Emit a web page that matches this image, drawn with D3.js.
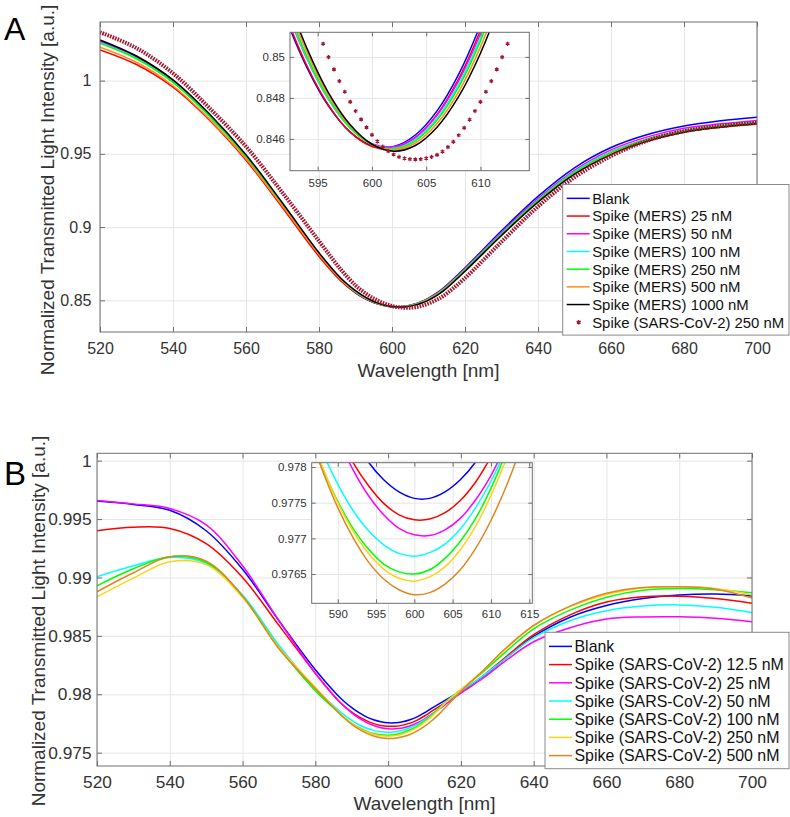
<!DOCTYPE html>
<html><head><meta charset="utf-8">
<script src="https://cdn.jsdelivr.net/npm/d3@7"></script>
<style>body{margin:0;background:#fff}svg{display:block}text{font-family:"Liberation Sans",Arial,Helvetica,sans-serif}</style>
</head><body><svg id="c" width="790" height="817"></svg>
<script>
// ---------------- DATA: panel A ----------------
const waveA = [520,530,540,550,560,570,580,586,590,592,594,596,598,600,602,604,606,608,610,612,614,620,630,640,650,660,670,680,690,700];
const blankA   = [1.0270,1.0160,0.9995,0.9760,0.9482,0.9150,0.8810,0.8638,0.85509,0.85198,0.84949,0.84760,0.84633,0.84567,0.84563,0.84619,0.84737,0.84916,0.85157,0.85459,0.85822,0.8722,0.8975,0.9210,0.9405,0.9543,0.9632,0.9690,0.9726,0.9750];
const mers25A  = [1.0210,1.0110,0.9955,0.9730,0.9457,0.9132,0.8800,0.8633,0.85528,0.85213,0.84958,0.84765,0.84633,0.84563,0.84554,0.84606,0.84719,0.84894,0.85130,0.85427,0.85786,0.8715,0.8960,0.9190,0.9378,0.9513,0.9602,0.9658,0.9690,0.9710];
const mers50A  = [1.0265,1.0157,0.9993,0.9760,0.9484,0.9155,0.8816,0.8643,0.85573,0.85251,0.84991,0.84792,0.84654,0.84577,0.84562,0.84608,0.84715,0.84884,0.85113,0.85405,0.85757,0.8715,0.8963,0.9195,0.9388,0.9527,0.9616,0.9675,0.9705,0.9728];
const mers100A = [1.0258,1.0152,0.9990,0.9758,0.9483,0.9155,0.8817,0.8644,0.85584,0.85259,0.84995,0.84793,0.84652,0.84573,0.84554,0.84597,0.84701,0.84867,0.85094,0.85382,0.85731,0.8709,0.8955,0.9185,0.9378,0.9513,0.9602,0.9660,0.9692,0.9715];
const mers250A = [1.0255,1.0149,0.9988,0.9757,0.9483,0.9156,0.8819,0.8646,0.85599,0.85271,0.85004,0.84799,0.84655,0.84572,0.84551,0.84591,0.84692,0.84854,0.85078,0.85363,0.85709,0.8707,0.8953,0.9182,0.9373,0.9508,0.9598,0.9657,0.9690,0.9712];
const mers500A = [1.0228,1.0125,0.9965,0.9737,0.9466,0.9144,0.8813,0.8645,0.85631,0.85297,0.85024,0.84813,0.84663,0.84574,0.84546,0.84580,0.84675,0.84831,0.85049,0.85327,0.85667,0.8699,0.8943,0.9172,0.9363,0.9498,0.9588,0.9648,0.9680,0.9702];
const mers1000A= [1.0278,1.0168,1.0005,0.9772,0.9494,0.9165,0.8825,0.8651,0.85661,0.85321,0.85043,0.84825,0.84669,0.84574,0.84540,0.84568,0.84657,0.84807,0.85018,0.85291,0.85625,0.8699,0.8943,0.9170,0.9361,0.9495,0.9587,0.9648,0.9682,0.9705];
const sarsA    = [1.0330,1.0222,1.0050,0.9812,0.9550,0.9235,0.8905,0.8710,0.86018,0.85614,0.85272,0.84993,0.84776,0.84612,0.84522,0.84500,0.84520,0.84620,0.84786,0.85006,0.85288,0.8652,0.8900,0.9140,0.9340,0.9485,0.9590,0.9655,0.9690,0.9712];
// SARS-CoV-2 250 nM markers seen in the inset
const sarsInsetWave = [595.5,596,596.5,597,597.5,598,598.5,599,599.5,600,600.5,601,601.5,602,602.5,603,603.5,604,604.5,605,605.5,606,606.5,607,607.5,608,608.5,609,609.5,610,610.5,611,611.5,612,612.5];
const sarsInsetVals = [0.85064,0.84999,0.84939,0.84882,0.84830,0.84781,0.84736,0.84695,0.84656,0.84620,0.84588,0.84562,0.84540,0.84524,0.84512,0.84505,0.84501,0.84500,0.84501,0.84505,0.84512,0.84522,0.84538,0.84560,0.84586,0.84618,0.84654,0.84694,0.84736,0.84781,0.84830,0.84882,0.84939,0.84999,0.85064];
const namesA = ["Blank","Spike (MERS) 25 nM","Spike (MERS) 50 nM","Spike (MERS) 100 nM","Spike (MERS) 250 nM","Spike (MERS) 500 nM","Spike (MERS) 1000 nM","Spike (SARS-CoV-2) 250 nM"];
const colorsA = ["#0000ff","#ff0000","#ff00ff","#00ffff","#00ff00","#ff8c1a","#000000","#a2142f"];
const xTicksA = [520,540,560,580,600,620,640,660,680,700];
const yTicksA = [0.85,0.9,0.95,1];
const xTicksInsetA = [595,600,605,610];
const yTicksInsetA = [0.846,0.848,0.85];

// ---------------- DATA: panel B ----------------
const waveB = [520,530,540,550,560,570,580,586,588,590,592,594,596,598,600,602,604,606,608,610,612,614,616,620,626,632,640,650,660,670,680,690,700];
const blankB   = [0.99654,0.99625,0.99575,0.99400,0.99070,0.98630,0.98210,0.97996,0.97936,0.97885,0.97842,0.97807,0.97782,0.97765,0.97756,0.97756,0.97765,0.97782,0.97807,0.97842,0.97882,0.97918,0.97955,0.98025,0.98150,0.98300,0.98495,0.98660,0.98760,0.98820,0.98850,0.98858,0.98842];
const sars12B  = [0.99400,0.99430,0.99420,0.99290,0.99000,0.98590,0.98180,0.97955,0.97897,0.97848,0.97806,0.97774,0.97749,0.97733,0.97726,0.97727,0.97736,0.97753,0.97779,0.97814,0.97855,0.97895,0.97935,0.98020,0.98155,0.98310,0.98510,0.98680,0.98790,0.98835,0.98840,0.98820,0.98780];
const sars25B  = [0.99660,0.99630,0.99590,0.99450,0.99100,0.98630,0.98180,0.97957,0.97895,0.97841,0.97796,0.97760,0.97733,0.97714,0.97705,0.97704,0.97712,0.97728,0.97754,0.97788,0.97831,0.97870,0.97920,0.98010,0.98135,0.98280,0.98450,0.98570,0.98645,0.98662,0.98663,0.98650,0.98620];
const sars50B  = [0.99006,0.99100,0.99172,0.99120,0.98850,0.98420,0.98050,0.97874,0.97821,0.97776,0.97739,0.97711,0.97691,0.97679,0.97675,0.97680,0.97692,0.97713,0.97743,0.97780,0.97826,0.97880,0.97935,0.98025,0.98155,0.98300,0.98485,0.98630,0.98715,0.98755,0.98765,0.98745,0.98700];
const sars100B = [0.98929,0.99075,0.99178,0.99130,0.98840,0.98400,0.98030,0.97855,0.97799,0.97752,0.97714,0.97685,0.97664,0.97653,0.97650,0.97656,0.97672,0.97696,0.97728,0.97770,0.97821,0.97880,0.97940,0.98040,0.98190,0.98355,0.98560,0.98720,0.98830,0.98890,0.98905,0.98895,0.98870];
const sars250B = [0.98835,0.98995,0.99135,0.99110,0.98830,0.98400,0.98060,0.97859,0.97800,0.97750,0.97710,0.97679,0.97657,0.97644,0.97640,0.97646,0.97660,0.97684,0.97717,0.97760,0.97811,0.97872,0.97935,0.98040,0.98200,0.98380,0.98585,0.98750,0.98855,0.98910,0.98920,0.98905,0.98850];
const sars500B = [0.98878,0.99040,0.99178,0.99140,0.98840,0.98390,0.98050,0.97855,0.97795,0.97743,0.97701,0.97667,0.97643,0.97628,0.97621,0.97624,0.97636,0.97656,0.97686,0.97725,0.97773,0.97830,0.97896,0.98025,0.98200,0.98385,0.98590,0.98755,0.98865,0.98915,0.98920,0.98900,0.98825];
const namesB = ["Blank","Spike (SARS-CoV-2) 12.5 nM","Spike (SARS-CoV-2) 25 nM","Spike (SARS-CoV-2) 50 nM","Spike (SARS-CoV-2) 100 nM","Spike (SARS-CoV-2) 250 nM","Spike (SARS-CoV-2) 500 nM"];
const colorsB = ["#0000ff","#ff0000","#ff00ff","#00ffff","#00ff00","#ffd21a","#e0861f"];
const xTicksB = [520,540,560,580,600,620,640,660,680,700];
const yTicksB = [0.975,0.98,0.985,0.99,0.995,1];
const xTicksInsetB = [590,595,600,605,610,615];
const yTicksInsetB = [0.9765,0.977,0.9775,0.978];

// ---------------- DRAWING ----------------
const svg = d3.select("#c");
const AX = "#6e6e6e", TXT = "#333", GRID = "#e6e6e6";
let clipId = 0;

function frame(g, x, y, o) {
  const [x0, x1] = x.range(), [y0, y1] = y.range();
  g.append("rect").attr("x", x0).attr("y", y1).attr("width", x1 - x0).attr("height", y0 - y1).attr("fill", "#fff");
  const gx = g.append("g").attr("transform", `translate(0,${y0})`)
    .call(d3.axisBottom(x).tickValues(o.xt).tickSize(-(y0 - y1)).tickFormat(""));
  const gy = g.append("g").attr("transform", `translate(${x0},0)`)
    .call(d3.axisLeft(y).tickValues(o.yt).tickSize(-(x1 - x0)).tickFormat(""));
  [gx, gy].forEach(a => { a.select(".domain").remove(); a.selectAll("line").attr("stroke", GRID).attr("stroke-width", 1); });
  const id = "clip" + (clipId++);
  g.append("clipPath").attr("id", id).append("rect").attr("x", x0).attr("y", y1).attr("width", x1 - x0).attr("height", y0 - y1);
  return g.append("g").attr("clip-path", `url(#${id})`);
}

function axes(g, x, y, o) {
  const [x0, x1] = x.range(), [y0, y1] = y.range();
  const style = a => {
    a.select(".domain").remove();
    a.selectAll("line").attr("stroke", AX);
    a.selectAll("text").attr("fill", TXT).attr("font-size", o.fs).attr("font-family", "Liberation Sans, Arial, sans-serif");
  };
  g.append("g").attr("transform", `translate(0,${y0})`)
    .call(d3.axisBottom(x).tickValues(o.xt).tickSize(-o.tl).tickPadding(o.px).tickFormat(d => String(d))).call(style);
  g.append("g").attr("transform", `translate(0,${y1})`)
    .call(d3.axisTop(x).tickValues(o.xt).tickSize(-o.tl).tickFormat("")).call(style);
  g.append("g").attr("transform", `translate(${x0},0)`)
    .call(d3.axisLeft(y).tickValues(o.yt).tickSize(-o.tl).tickPadding(o.py).tickFormat(d => String(d))).call(style);
  g.append("g").attr("transform", `translate(${x1},0)`)
    .call(d3.axisRight(y).tickValues(o.yt).tickSize(-o.tl).tickFormat("")).call(style);
  g.append("rect").attr("x", x0).attr("y", y1).attr("width", x1 - x0).attr("height", y0 - y1)
    .attr("fill", "none").attr("stroke", AX).attr("stroke-width", 1);
}

function drawLines(plot, x, y, wave, series, colors, opts) {
  const line = d3.line().x((d, i) => x(wave[i])).y(d => y(d)).curve(d3.curveCatmullRom.alpha(0.5));
  series.forEach((vals, k) => {
    const p = plot.append("path").attr("d", line(vals)).attr("fill", "none").attr("stroke", colors[k])
      .attr("stroke-width", 1.5).attr("stroke-linejoin", "round");
    if (opts && opts.dotted === k) p.attr("stroke-width", 4).attr("stroke-dasharray", "1.6 1.1");
  });
}

function legend(g, x0, x1, yTop, rowH, names, colors, markerIdx, fs) {
  const n = names.length;
  g.append("rect").attr("x", x0).attr("y", yTop).attr("width", x1 - x0).attr("height", rowH * n + 9)
    .attr("fill", "#fff").attr("stroke", "#8a8a8a").attr("stroke-width", 1);
  names.forEach((nm, i) => {
    const cy = yTop + 5 + rowH * (i + 0.5);
    if (i === markerIdx) {
      g.append("path").attr("d", d3.symbol(d3.symbolAsterisk, 14)()).attr("transform", `translate(${x0 + 16},${cy})`)
        .attr("stroke", colors[i]).attr("stroke-width", 1.3).attr("fill", "none");
    } else {
      g.append("line").attr("x1", x0 + 4).attr("x2", x0 + 27).attr("y1", cy).attr("y2", cy)
        .attr("stroke", colors[i]).attr("stroke-width", 1.5);
    }
    g.append("text").attr("x", x0 + 29.5).attr("y", cy).attr("dy", "0.36em").attr("font-size", fs)
      .attr("fill", "#111").text(nm);
  });
}

// ---------- Panel A ----------
{
  const g = svg.append("g");
  const x = d3.scaleLinear().domain([520, 700]).range([100, 757]);
  const y = d3.scaleLinear().domain([0.8284, 1.0400]).range([332, 22]);
  const plot = frame(g, x, y, { xt: xTicksA, yt: yTicksA });
  const seriesA = [blankA, mers25A, mers50A, mers100A, mers250A, mers500A, mers1000A, sarsA];
  drawLines(plot, x, y, waveA, seriesA, colorsA, { dotted: 7 });
  axes(g, x, y, { xt: xTicksA, yt: yTicksA, tl: 5, px: 10.5, py: 8.5, fs: 16 });
  const xi = d3.scaleLinear().domain([592.45, 614.5]).range([290, 529.3]);
  const yi = d3.scaleLinear().domain([0.84445, 0.8512]).range([170.7, 32.3]);
  const ip = frame(g, xi, yi, { xt: xTicksInsetA, yt: yTicksInsetA });
  drawLines(ip, xi, yi, waveA, seriesA.slice(0, 7), colorsA);
  ip.selectAll("path.mk").data(sarsInsetVals).join("path").attr("class", "mk")
    .attr("d", d3.symbol(d3.symbolAsterisk, 12)())
    .attr("transform", (d, i) => `translate(${xi(sarsInsetWave[i])},${yi(d)})`)
    .attr("fill", "none").attr("stroke", colorsA[7]).attr("stroke-width", 1.2);
  axes(g, xi, yi, { xt: xTicksInsetA, yt: yTicksInsetA, tl: 4, px: 8, py: 5, fs: 11.5 });
  legend(g, 562.7, 789, 184.5, 17.7, namesA, colorsA, 7, 14.9);
  g.append("text").attr("x", 428.5).attr("y", 377).attr("text-anchor", "middle").attr("font-size", 19).attr("fill", TXT).text("Wavelength [nm]");
  g.append("text").attr("transform", "translate(54,190) rotate(-90)").attr("text-anchor", "middle").attr("font-size", 19).attr("fill", TXT).text("Normalized Transmitted Light Intensity [a.u.]");
  g.append("text").attr("x", 4).attr("y", 40).attr("font-size", 32).attr("fill", "#000").text("A");
}

// ---------- Panel B ----------
{
  const g = svg.append("g");
  const x = d3.scaleLinear().domain([520, 700]).range([97, 752]);
  const y = d3.scaleLinear().domain([0.97386, 1.00063]).range([766, 453.3]);
  const plot = frame(g, x, y, { xt: xTicksB, yt: yTicksB });
  const seriesB = [blankB, sars12B, sars25B, sars50B, sars100B, sars250B, sars500B];
  drawLines(plot, x, y, waveB, seriesB, colorsB);
  axes(g, x, y, { xt: xTicksB, yt: yTicksB, tl: 5, px: 9.5, py: 5.5, fs: 17.3 });
  const xi = d3.scaleLinear().domain([586.6, 615.4]).range([311.7, 532.3]);
  const yi = d3.scaleLinear().domain([0.97609, 0.97806]).range([603.3, 462.7]);
  const ip = frame(g, xi, yi, { xt: xTicksInsetB, yt: yTicksInsetB });
  drawLines(ip, xi, yi, waveB, seriesB, colorsB);
  axes(g, xi, yi, { xt: xTicksInsetB, yt: yTicksInsetB, tl: 4, px: 7, py: 5, fs: 11.5 });
  legend(g, 545, 789, 632.3, 18.2, namesB, colorsB, -1, 15.9);
  g.append("text").attr("x", 424.5).attr("y", 810).attr("text-anchor", "middle").attr("font-size", 19).attr("fill", TXT).text("Wavelength [nm]");
  g.append("text").attr("transform", "translate(45,621) rotate(-90)").attr("text-anchor", "middle").attr("font-size", 19).attr("fill", TXT).text("Normalized Transmitted Light Intensity [a.u.]");
  g.append("text").attr("x", 4).attr("y", 485).attr("font-size", 33).attr("fill", "#000").text("B");
}
</script></body></html>
